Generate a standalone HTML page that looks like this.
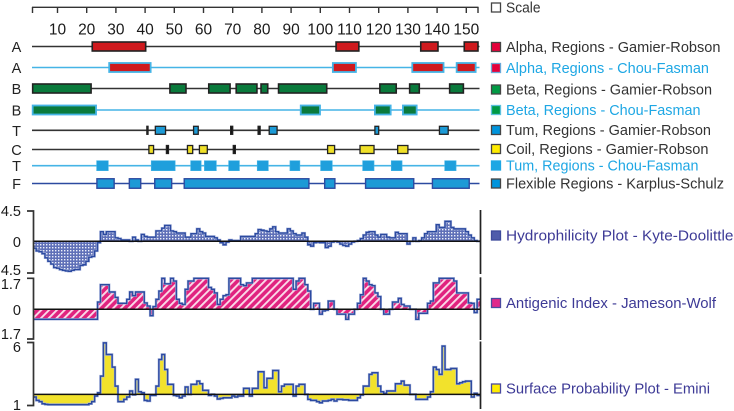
<!DOCTYPE html>
<html><head><meta charset="utf-8"><style>
html,body{margin:0;padding:0;background:#fff;width:734px;height:411px;overflow:hidden}
svg{display:block}
text{font-family:"Liberation Sans",sans-serif}
</style></head><body>
<svg id="chart" width="734" height="411" viewBox="0 0 734 411" xmlns="http://www.w3.org/2000/svg">
<defs>
<pattern id="dots" width="3" height="3" patternUnits="userSpaceOnUse"><rect width="3" height="3" fill="#5f70b8"/><rect x="1" y="1" width="1.4" height="1.4" fill="#eef0fa"/></pattern>
<pattern id="hatch" width="5.5" height="5.5" patternUnits="userSpaceOnUse" patternTransform="rotate(-45)"><rect width="5.5" height="5.5" fill="#e0237f"/><rect y="0" width="5.5" height="1.9" fill="#fbdbe9"/></pattern>
</defs>
</svg>
<script>
const tickLabels = [10,20,30,40,50,60,70,80,90,100,110,120,130,140,150];
const alphaGarnier = [[21.9,40.2],[105.4,113.2],[134.4,140.3],[149.3,154]];
const alphaChou = [[27.7,41.9],[104.3,112.2],[131.5,142.2],[146.7,153.2]];
const betaGarnier = [[1.5,21.5],[48.5,54],[61.8,69.1],[71.2,78.3],[79.7,82],[85.7,102.2],[120.4,126],[130.6,133.9],[144.3,149]];
const betaChou = [[1.5,23.2],[93.3,99.9],[118.7,124.1],[128.3,133]];
const turnGarnier = [[40.6,41],[43.5,47],[56.6,58.2],[69.3,70],[78.7,79.4],[82.5,85.2],[118.7,120],[140.8,143.8]];
const coilGarnier = [[41.3,42.9],[47.3,48],[54.5,56.3],[58.6,61.3],[70.2,70.9],[102.5,104.9],[113.6,118.4],[126.5,130]];
const turnChou = [[23.4,27.4],[42.1,50.3],[55.6,59.2],[60.3,64.4],[68.6,72.3],[78.4,82.2],[89.6,93],[100.1,104.1],[114.5,118.4],[124.3,128],[142.6,146.5]];
const flexibleRegions = [[23.5,29.4],[34.6,38.5],[43.3,49.1],[53.4,96.1],[101.5,105],[115.5,132],[138.4,151]];
const hydrophilicity = [-1,-1.4,-1.5,-1.8,-2.4,-2.9,-3.3,-3.8,-3.9,-4.1,-4.2,-4.3,-4.35,-4.2,-4.1,-4.1,-3.5,-3.4,-2.9,-2.3,-2.2,-1.4,-0.2,1.4,1,1.4,1.4,1.4,.5,.4,.2,.2,.2,0,.6,.2,0,1,.7,.6,.6,.6,1.5,1.5,1.9,2.3,2.3,1.5,1.4,1.2,1.2,1.2,.6,.6,1.1,1.1,1.8,1.4,1.2,.7,.7,.7,.5,.2,-.2,-.5,-.1,.2,.1,.1,.1,.7,.7,.7,.7,.7,1.1,1.7,1.6,1.5,1.4,1.8,2.1,1.4,1.2,1.2,1.2,1.8,1.5,1.1,.9,.9,1.2,.6,-.5,-.7,-.2,-.1,-.2,-.2,-.9,-.7,-.1,0,-.1,-.4,-.6,-.7,-.4,-.1,0,.1,.4,.9,1.3,1.4,1.4,.9,.6,1,1,.6,.5,.5,1.3,1.1,1.1,1.1,-.4,0,.5,0,.1,.5,1.1,1.4,1.4,1.4,2.4,2,2,2.9,2.9,2,1.8,1.8,1.8,1.8,1.4,.9,.5,.1,0];
const antigenicIndex = [-.55,-.55,-.55,-.55,-.55,-.55,-.55,-.55,-.55,-.55,-.55,-.55,-.55,-.55,-.55,-.55,-.55,-.55,-.55,-.55,-.55,-.55,.4,1.35,1.35,1.35,.95,.95,.65,.33,.33,.33,.55,.95,.75,.95,.95,.95,.35,.18,-.35,.15,.55,1,1.7,1.4,1.4,1.7,1.55,.55,.33,.27,1.1,1.55,1.55,1.7,1.7,1.7,1.7,1.7,1.2,1.1,.9,.27,.55,.75,.8,1.7,1.7,1.7,1.7,1.35,1.3,1.45,1.45,1.7,1.7,1.7,1.7,1.7,1.7,1.7,1.7,1.7,1.7,1.7,1.7,1.7,1.7,1.1,1.55,1.7,1.7,1.35,1,0,.33,.33,-.27,-.09,-.05,.45,.45,0,-.27,-.27,-.27,-.55,-.27,-.27,0,.33,.8,1.7,1.55,1.35,1.3,.9,.7,0,-.27,-.27,0,.4,.4,.6,.27,.18,.18,0,0,-.55,-.22,-.22,-.22,.33,.45,1.45,1.45,1.7,1.7,1.7,1.7,1.7,1.55,.9,.9,.9,.9,.35,.33,-.18,.55];
const surfaceProbability = [1.64,1.37,1.27,1.1,1.05,1.03,1.03,1.03,1.03,1.03,1.03,1.03,1.03,1.03,1.03,1.03,1.03,1.03,1.03,1.1,1.27,1.72,1.98,3.31,5.97,5.04,5.04,4.03,2.51,1.27,1.27,1.45,1.64,2.12,1.82,3.05,2.06,1.98,1.37,1.32,1.77,1.77,2.51,4.64,5.04,3.84,2.65,2.65,1.77,1.72,1.58,1.72,2.44,1.85,2.65,2.65,2.91,2.7,2.17,2.17,1.77,1.85,1.72,1.48,1.53,1.58,1.58,1.58,1.72,1.64,1.72,1.72,2.33,2.33,1.72,2.33,2.33,3.66,3.66,2.38,3.13,3.13,3.76,3.76,2.06,2.51,2.65,2.65,2.65,1.72,2.51,2.65,2.65,1.85,1.45,1.37,1.37,1.27,1.18,1.32,1.32,1.37,1.45,1.32,1.45,1.45,1.42,1.42,1.37,1.37,1.37,1.58,1.8,2.51,2.51,3.45,3.58,3.58,2.51,2.06,1.93,2.12,2.12,2.12,2.7,2.7,2.91,2.59,2.59,1.85,1.85,1.45,1.45,1.45,1.45,1.64,2.06,4.03,3.84,3.45,5.71,3.84,3.84,3.92,3.92,2.7,2.78,2.86,2.91,2.91,1.64,1.93,1.77];

const NS = 'http://www.w3.org/2000/svg';
const svg = document.getElementById('chart');
function mk(tag, attrs, parent) {
  const el = document.createElementNS(NS, tag);
  for (const k in attrs) el.setAttribute(k, attrs[k]);
  (parent || svg).appendChild(el);
  return el;
}
const xRes = p => 28.3 + 2.92 * p;
const xStep = i => 33.3 + 2.92 * i;
const yHyd = v => 241.3 - v * 6.9;
const yAnt = v => 309.3 - v * 18.2;
const ySur = v => 405 - (v - 1) * 12.5;

/* ruler */
const ruler = mk('g', {stroke:'#333','stroke-width':1.4});


mk('line', {x1:32,x2:478.5,y1:7.3,y2:7.3}, ruler);
mk('line', {x1:32.5,x2:32.5,y1:7,y2:13}, ruler);
mk('line', {x1:478,x2:478,y1:7,y2:13}, ruler);
tickLabels.forEach(t => {
  mk('line', {x1:xRes(t),x2:xRes(t),y1:7,y2:13}, ruler);
  const lab = mk('text', {x:xRes(t),y:34.5,'text-anchor':'middle','font-size':15.5,fill:'#1a1a1a',stroke:'none'});
  
  
  lab.textContent = t;
});

/* region tracks */
const tracks = [
  {name:'alpha-garnier',letter:'A',y:46.5,h:9,regions:alphaGarnier,line:'#333',lw:1.6,border:'#222',bw:1.6,fill:'#cf1a1e'},
  {name:'alpha-chou',letter:'A',y:67.5,h:9,regions:alphaChou,line:'#45b4e6',lw:1.6,border:'#45b4e6',bw:1.8,fill:'#cf1a1e'},
  {name:'beta-garnier',letter:'B',y:88.5,h:9,regions:betaGarnier,line:'#333',lw:1.6,border:'#222',bw:1.6,fill:'#0a7a3c'},
  {name:'beta-chou',letter:'B',y:110,h:9,regions:betaChou,line:'#45b4e6',lw:1.6,border:'#45b4e6',bw:1.8,fill:'#0a7a3c'},
  {name:'turn-garnier',letter:'T',y:130.3,h:8,regions:turnGarnier,line:'#333',lw:1.6,border:'#222',bw:1.3,fill:'#1c9ad6'},
  {name:'coil-garnier',letter:'C',y:149.5,h:8,regions:coilGarnier,line:'#333',lw:1.6,border:'#222',bw:1.3,fill:'#f0e028'},
  {name:'turn-chou',letter:'T',y:165.7,h:10,regions:turnChou,line:'#45b4e6',lw:1.6,border:'#45b4e6',bw:.6,fill:'#1f9fdc'},
  {name:'flexible-karplus',letter:'F',y:183.5,h:9.5,regions:flexibleRegions,line:'#2c4aa0',lw:1.6,border:'#2c4aa0',bw:1.4,fill:'#1c9ad6'}
];
tracks.forEach(t => {
  const g = mk('g', {});
  
  
  const lt = mk('text', {x:16.5,y:t.y+5.5,'text-anchor':'middle','font-size':14.5,fill:'#222'}, g);
  
  
  lt.textContent = t.letter;
  mk('line', {x1:32,x2:479.5,y1:t.y,y2:t.y,stroke:t.line,'stroke-width':t.lw}, g);
  t.regions.forEach(r => {
    const narrow = r[1]-r[0] < 1;
    const box = mk('rect', {x:xRes(r[0]),y:t.y-t.h/2,width:xRes(r[1])-xRes(r[0]),height:t.h,
      fill:narrow?'#111':t.fill,stroke:t.border,'stroke-width':t.bw}, g);
    
    
  });
});

/* area plots */
function stepPaths(vals, yFn, base) {
  let line = '';
  vals.forEach((v,i) => {
    line += (i===0 ? 'M' : 'L') + xStep(i).toFixed(2) + ' ' + yFn(v).toFixed(2) + 'L' + xStep(i+1).toFixed(2) + ' ' + yFn(v).toFixed(2);
  });
  const b = yFn(base).toFixed(2);
  return {line, area: 'M' + xStep(0).toFixed(2) + ' ' + b + line.replace(/^M/,'L') + 'L' + xStep(vals.length).toFixed(2) + ' ' + b + 'Z'};
}
const plots = [
  {name:'hydrophilicity',vals:hydrophilicity,y:yHyd,base:0,fill:'url(#dots)',top:211,bot:273},
  {name:'antigenic',vals:antigenicIndex,y:yAnt,base:0,fill:'url(#hatch)',top:278.3,bot:339},
  {name:'surface',vals:surfaceProbability,y:ySur,base:1.85,fill:'#f2e22c',top:342.5,bot:405.5}
];
plots.forEach(p => {
  const g = mk('g', {});
  
  
  const s = stepPaths(p.vals, p.y, p.base);
  mk('path', {d:s.area,fill:p.fill}, g);
  mk('path', {d:s.line,fill:'none',stroke:'#a9b6de','stroke-width':2.4}, g);
  mk('path', {d:s.line,fill:'none',stroke:'#2c4aa0','stroke-width':1.4}, g);
  const by = p.y(p.base);
  mk('line', {x1:33,x2:480,y1:by,y2:by,stroke:'#111','stroke-width':1.5}, g);
  const ax = mk('path', {d:'M27 '+p.top+'H33.5V'+p.bot+'H27',fill:'none',stroke:'#333','stroke-width':1.7}, g);
  
  
  const rl = mk('line', {x1:480.5,x2:480.5,y1:p.top-1,y2:p.name==='surface'?409:p.bot+1,stroke:'#222','stroke-width':1.7}, g);
  
  
});

/* y tick labels */
const yTickText = ['4.5','0','4.5','1.7','0','1.7','6','1'];
const yTickPos = [216,247,275,289,315,339,352,410];
yTickText.forEach((t,i) => {
  const el = mk('text', {x:21,y:yTickPos[i],'text-anchor':'end','font-size':14.5,fill:'#1a1a1a'});
  
  
  el.textContent = t;
});

/* legend */
const legendLabels = ['Scale','Alpha, Regions - Gamier-Robson','Alpha, Regions - Chou-Fasman','Beta, Regions - Gamier-Robson','Beta, Regions - Chou-Fasman','Tum, Regions - Gamier-Robson','Coil, Regions - Gamier-Robson','Tum, Regions - Chou-Fasman','Flexible Regions - Karplus-Schulz','Hydrophilicity Plot - Kyte-Doolittle','Antigenic Index - Jameson-Wolf','Surface Probability Plot - Emini'];
const legendRows = [
  {y:7.5,x:506,w:34.5,c:'#333',f:'#fff',b:'#444'},
  {y:47,x:506,w:214.5,c:'#333',f:'#e4003a',b:'#444'},
  {y:68,x:506,w:203,c:'#1ea7e4',f:'#e4003a',b:'#6aa8d8'},
  {y:89.5,x:506,w:206,c:'#333',f:'#009a44',b:'#444'},
  {y:110,x:506,w:194.5,c:'#1ea7e4',f:'#009a44',b:'#5cc0dc'},
  {y:130,x:506,w:205,c:'#333',f:'#0094dc',b:'#444'},
  {y:149,x:506,w:202.5,c:'#333',f:'#ffec00',b:'#444'},
  {y:165.5,x:506,w:192.5,c:'#1ea7e4',f:'#1ea7e4',b:'#1ea7e4'},
  {y:183.5,x:506,w:218,c:'#333',f:'#0094dc',b:'#444'},
  {y:235.5,x:506,w:227.5,c:'#3d3a96',f:'#4f5cab',b:'#3d4a9c'},
  {y:303,x:506,w:210,c:'#3d3a96',f:'#e0288a',b:'#4a4aa0'},
  {y:388.5,x:506,w:204,c:'#3d3a96',f:'#ffec00',b:'#4a4aa0'}
];
legendRows.forEach((r,i) => {
  const sw = mk('rect', {x:491.5,y:r.y-4.5,width:9,height:9,fill:r.f,stroke:r.b,'stroke-width':1.3});
  
  
  const t = mk('text', {x:r.x,y:r.y+5,'font-size':15,fill:r.c,textLength:r.w,lengthAdjust:'spacingAndGlyphs'});
  
  
  t.textContent = legendLabels[i];
});
</script>
</body></html>
